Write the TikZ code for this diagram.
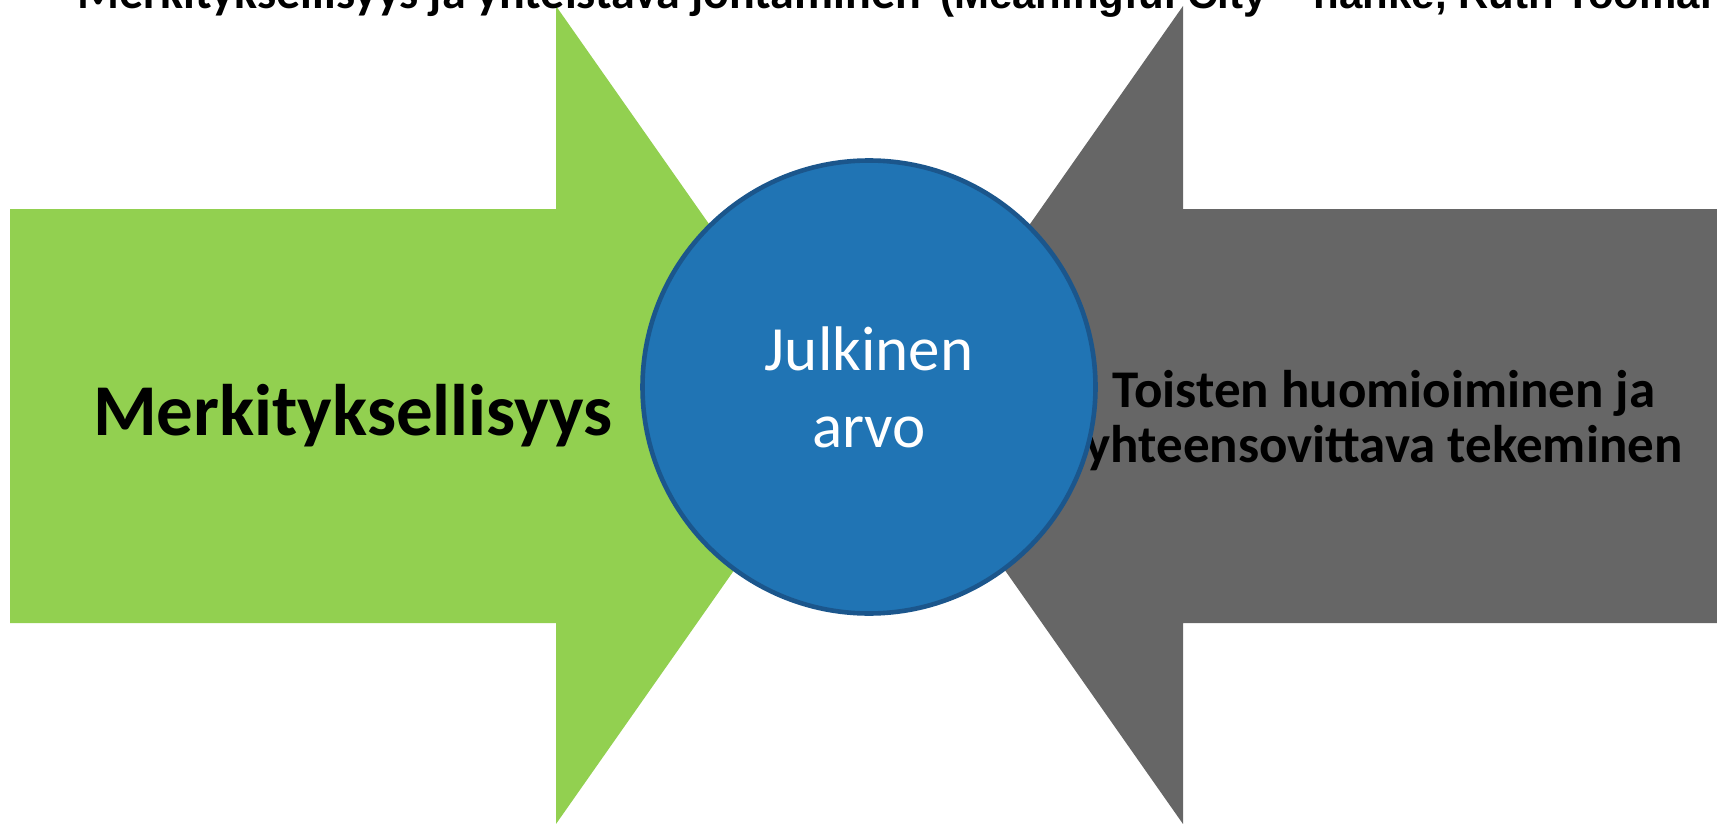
\documentclass[tikz,border=0pt]{standalone}
\usepackage{fontspec}
\setmainfont{Carlito}
\newfontfamily\projfont{Liberation Sans}
\usetikzlibrary{positioning}

\definecolor{meangreen}{HTML}{92D050}
\definecolor{meangray}{HTML}{666666}
\definecolor{valuefill}{HTML}{2074B4}
\definecolor{valuedraw}{HTML}{1B568C}

\begin{document}
\begin{tikzpicture}[
    x = 1pt, y = -1pt, % one unit per pixel, y downwards
    semithick, % line style
    sidetext/.style = {font=\bfseries, text=black, align=center, inner sep=0pt},
    value/.style = {circle, draw=valuedraw, line width=4.6pt, fill=valuefill,
                    text=white, align=center, minimum size=453pt, inner sep=0pt}
    ]

    \useasboundingbox (0,0) rectangle (1717,824);
    \clip (0,0) rectangle (1717,824);

    % the two big arrows
    \fill[meangreen] (10,209) -- (556,209) -- (556,6) -- (843,415)
        -- (556,824) -- (556,623) -- (10,623) -- cycle;
    \fill[meangray] (1730,209) -- (1183,209) -- (1183,6) -- (896,415)
        -- (1183,824) -- (1183,623) -- (1730,623) -- cycle;

    % title, cut by the top edge
    \node[sidetext, anchor=base west, font=\bfseries\fontsize{48}{56}\selectfont]
        (title) at (77,9) {Merkityksellisyys ja yhteistävä johtaminen};
    \node[sidetext, anchor=base west, font=\projfont\bfseries\fontsize{42}{50}\selectfont]
        (titleproj) at (940,9) {(Meaningful City – hanke, Ruth Tooman};

    \node[sidetext, anchor=base, font=\bfseries\fontsize{73}{88}\selectfont]
        (mean) at (353,435) {Merkityksellisyys};
    \node[sidetext, anchor=base, font=\bfseries\fontsize{53}{55}\selectfont]
        (others) at (1384,462) {Toisten huomioiminen ja\\yhteensovittava tekeminen};

    \node[value, font=\fontsize{63}{77}\selectfont] (val) at (869,387) {Julkinen\\arvo};
\end{tikzpicture}
\end{document}
